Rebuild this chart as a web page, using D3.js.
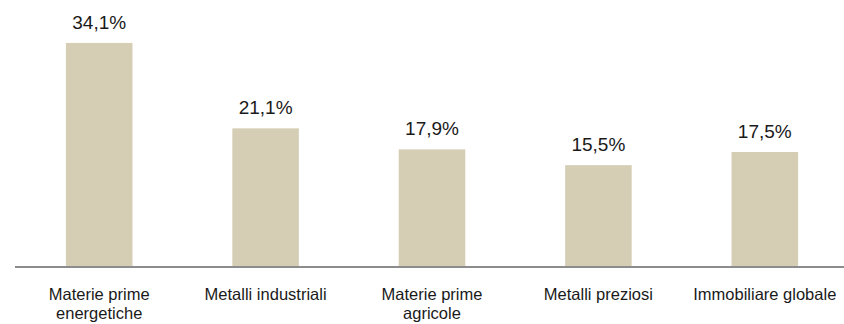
<!DOCTYPE html>
<meta charset="utf-8">
<style>
body { margin: 0; background: #fff; }
text { font-family: "Liberation Sans", Arial, sans-serif; fill: #1a1a1a; }
.value { font-size: 19px; text-anchor: middle; }
.cat { font-size: 16.5px; text-anchor: middle; }
</style>
<svg width="844" height="324"></svg>
<script src="https://cdn.jsdelivr.net/npm/d3@7"></script>
<script>

var categories = ["Materie prime energetiche", "Metalli industriali", "Materie prime agricole", "Metalli preziosi", "Immobiliare globale"];
var values = [34.1, 21.1, 17.9, 15.5, 17.5];
var valueLabels = ["34,1%", "21,1%", "17,9%", "15,5%", "17,5%"];

var svg = d3.select("svg"),
    baseY = 267;

var x = d3.scaleBand()
    .domain(categories)
    .range([16, 848])
    .paddingInner(0.6)
    .paddingOuter(0.3);

var y = d3.scaleLinear()
    .domain([0, 35])
    .range([baseY, 37]);

var data = categories.map(function(c, i) { return { name: c, value: values[i], label: valueLabels[i] }; });

svg.selectAll(".bar")
  .data(data)
  .enter().append("rect")
    .attr("class", "bar")
    .attr("x", function(d) { return x(d.name); })
    .attr("width", x.bandwidth())
    .attr("y", function(d) { return y(d.value); })
    .attr("height", function(d) { return baseY - y(d.value); })
    .attr("fill", "#d5ceb5");

svg.selectAll(".value")
  .data(data)
  .enter().append("text")
    .attr("class", "value")
    .attr("x", function(d) { return x(d.name) + x.bandwidth() / 2; })
    .attr("y", function(d) { return y(d.value) - 14; })
    .text(function(d) { return d.label; });

// axis line
svg.append("line")
    .attr("x1", 15).attr("x2", 844)
    .attr("y1", baseY).attr("y2", baseY)
    .attr("stroke", "#8c8c8c")
    .attr("stroke-width", 2);

// category labels, wrapped like excel does
var cat = svg.selectAll(".cat")
  .data(data)
  .enter().append("text")
    .attr("class", "cat")
    .attr("y", 300);

cat.each(function(d) {
  var t = d3.select(this),
      cx = x(d.name) + x.bandwidth() / 2,
      words = d.name.split(" "),
      lines = [], line = [];
  words.forEach(function(w) {
    line.push(w);
    t.text(line.join(" "));
    if (this.getComputedTextLength() > 156 && line.length > 1) {
      line.pop();
      lines.push(line.join(" "));
      line = [w];
    }
  }, this);
  lines.push(line.join(" "));
  t.text(null);
  lines.forEach(function(l, i) {
    t.append("tspan").attr("x", cx).attr("dy", i ? 19 : 0).text(l);
  });
});

</script>
